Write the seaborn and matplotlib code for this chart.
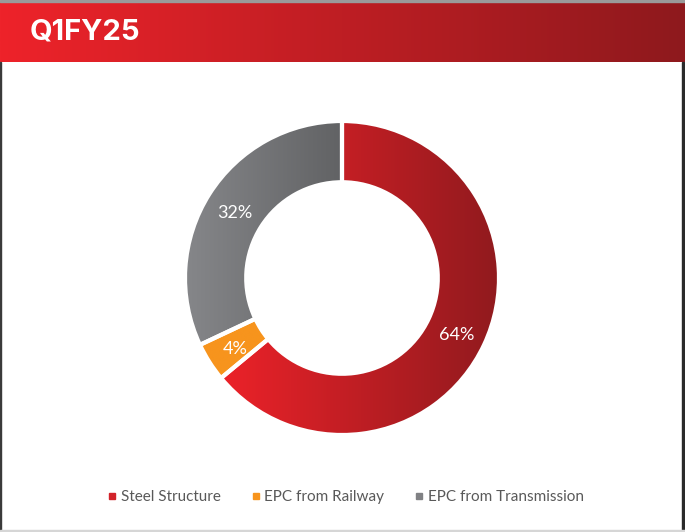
import numpy as np
import matplotlib
matplotlib.use("Agg")
import matplotlib.pyplot as plt
import seaborn as sns
from matplotlib.colors import LinearSegmentedColormap
from matplotlib.lines import Line2D
from matplotlib.patches import Rectangle

# Revenue mix for the quarter
title = "Q1FY25"
segments = ["Steel Structure", "EPC from Railway", "EPC from Transmission"]
shares = [64, 4, 32]
value_labels = ["64%", "4%", "32%"]

# Each segment: flat legend colour plus gradient endpoints (left -> right)
legend_colors = ["#D2232A", "#F7941D", "#808184"]
gradients = [("#EC2229", "#901A1E"), ("#F7941D", "#F7941D"), ("#86878A", "#616264")]

sns.set_theme(style="white")
plt.rcParams["font.family"] = ["Lato", "DejaVu Sans"]

W, H = 685, 532
fig = plt.figure(figsize=(W / 100, H / 100), dpi=100)
fig.patch.set_facecolor("white")

# Header band with a horizontal red gradient
hdr_top, hdr_bot = 2, 62
hax = fig.add_axes([0, 1 - hdr_bot / H, 1, (hdr_bot - hdr_top) / H])
hcmap = LinearSegmentedColormap.from_list("hdr", ["#EE232A", "#8E191D"])
hax.imshow(np.linspace(0, 1, 256)[None, :], aspect="auto", cmap=hcmap,
           extent=[0, 1, 0, 1])
hax.set_xlim(0, 1)
hax.set_ylim(0, 1)
hax.axis("off")
hax.text(30 / W, 0.5, title, color="white", fontsize=21, fontweight="bold",
         family=["Inter", "DejaVu Sans"], va="center", ha="left",
         transform=hax.transAxes)

# Frame lines around the panel
fig.patches.append(Rectangle((0, 1 - 2 / H), 1, 2 / H, transform=fig.transFigure,
                             color="#9a9a9a", zorder=0))
fig.patches.append(Rectangle((0, 0), 1 / W, 1 - hdr_bot / H, transform=fig.transFigure,
                             color="#3a3a3a", zorder=0))
fig.patches.append(Rectangle((1 - 3 / W, 0), 1.5 / W, 1 - hdr_bot / H, transform=fig.transFigure,
                             color="#2a2a2a", zorder=0))
fig.patches.append(Rectangle((0, 0), 1, 2 / H, transform=fig.transFigure,
                             color="#d6d6d6", zorder=0))

# Donut axes
cx, cy, R = 342, 278, 157
ax = fig.add_axes([(cx - R) / W, (H - cy - R) / H, 2 * R / W, 2 * R / H])
ax.set_xlim(-1, 1)
ax.set_ylim(-1, 1)
ax.axis("off")

ring = 0.39
wedges, _ = ax.pie(shares, startangle=90, counterclock=False, radius=1,
                   colors=legend_colors, wedgeprops=dict(width=ring, linewidth=0))

for w, (c0, c1) in zip(wedges, gradients):
    verts = w.get_path().vertices
    x0, x1 = verts[:, 0].min(), verts[:, 0].max()
    y0, y1 = verts[:, 1].min(), verts[:, 1].max()
    cmap = LinearSegmentedColormap.from_list("g", [c0, c1])
    im = ax.imshow(np.linspace(0, 1, 256)[None, :], aspect="auto", cmap=cmap,
                   extent=[x0, x1, y0, y1], zorder=2, interpolation="bilinear")
    im.set_clip_path(w)

# White separators between segments
ax.pie(shares, startangle=90, counterclock=False, radius=1,
       colors=["none"] * len(shares),
       wedgeprops=dict(width=ring, linewidth=3, edgecolor="white", zorder=3))
ax.set_xlim(-1, 1)
ax.set_ylim(-1, 1)

# Percentage labels centred in the ring
mid_r = 1 - ring / 2
start = 90.0
total = sum(shares)
for val, lab in zip(shares, value_labels):
    ang = np.deg2rad(start - val / total * 360 / 2)
    start -= val / total * 360
    ax.text(mid_r * np.cos(ang), mid_r * np.sin(ang) - 0.02, lab, color="white",
            fontsize=13, ha="center", va="center", zorder=4)

# Legend
handles = [Line2D([], [], marker="s", linestyle="none", markersize=5,
                  markerfacecolor=c, markeredgecolor=c) for c in legend_colors]
fig.legend(handles, segments, loc="center", bbox_to_anchor=(345 / W, 1 - 497 / H),
           ncol=3, frameon=False, fontsize=11, handletextpad=0.15,
           columnspacing=1.9, labelcolor="#595959", handlelength=0.8)

fig.savefig("out.png", dpi=100, facecolor="white")
